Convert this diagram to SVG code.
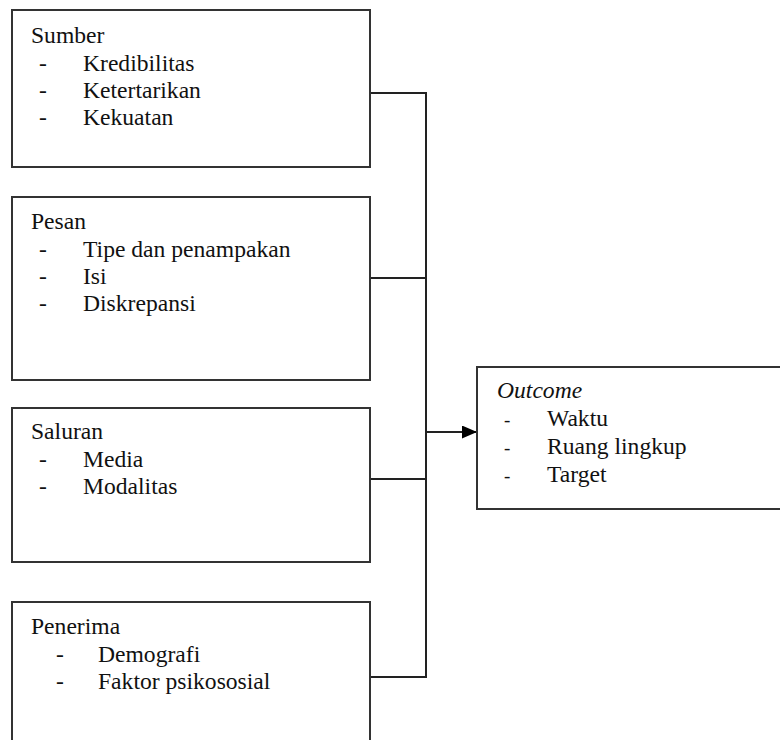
<svg xmlns="http://www.w3.org/2000/svg" width="780" height="740" viewBox="0 0 780 740">
<defs>
<style>
.box{fill:#fff;stroke:#333;stroke-width:2}
.t{font-family:'Liberation Serif','DejaVu Serif',serif;font-size:23.6px;fill:#111}
.it{font-style:italic}
.ln{fill:none;stroke:#222;stroke-width:2}
</style>
<marker id="ah" markerWidth="15" markerHeight="13" refX="15" refY="6.5" orient="auto" markerUnits="userSpaceOnUse">
<path d="M0,0 L15,6.5 L0,13 Z" fill="#000"/>
</marker>
</defs>
<rect width="780" height="740" fill="#fff"/>
<g id="connectors">
<path class="ln" d="M370,93 H426 M370,278 H426 M370,479 H426 M370,677 H426 M426,92 V678"/>
<path class="ln" d="M426,432 H477" marker-end="url(#ah)"/>
</g>
<g id="sumber">
<rect class="box" x="12" y="10" width="358" height="157"/>
<text class="t" x="31" y="43">Sumber</text>
<text class="t" x="39" y="71">-</text><text class="t" x="83" y="71">Kredibilitas</text>
<text class="t" x="39" y="98">-</text><text class="t" x="83" y="98">Ketertarikan</text>
<text class="t" x="39" y="125">-</text><text class="t" x="83" y="125">Kekuatan</text>
</g>
<g id="pesan">
<rect class="box" x="12" y="197" width="358" height="183"/>
<text class="t" x="31" y="229">Pesan</text>
<text class="t" x="39" y="257">-</text><text class="t" x="83" y="257">Tipe dan penampakan</text>
<text class="t" x="39" y="284">-</text><text class="t" x="83" y="284">Isi</text>
<text class="t" x="39" y="311">-</text><text class="t" x="83" y="311">Diskrepansi</text>
</g>
<g id="saluran">
<rect class="box" x="12" y="408" width="358" height="154"/>
<text class="t" x="31" y="439">Saluran</text>
<text class="t" x="39" y="467">-</text><text class="t" x="83" y="467">Media</text>
<text class="t" x="39" y="494">-</text><text class="t" x="83" y="494">Modalitas</text>
</g>
<g id="penerima">
<rect class="box" x="12" y="602" width="358" height="160"/>
<text class="t" x="31" y="634">Penerima</text>
<text class="t" x="56" y="662">-</text><text class="t" x="98" y="662">Demografi</text>
<text class="t" x="56" y="689">-</text><text class="t" x="98" y="689">Faktor psikososial</text>
</g>
<g id="outcome">
<rect class="box" x="477" y="367" width="320" height="142"/>
<text class="t it" x="497" y="398">Outcome</text>
<text class="t" x="504" y="426" style="font-size:19px">-</text><text class="t" x="547" y="426">Waktu</text>
<text class="t" x="504" y="454" style="font-size:19px">-</text><text class="t" x="547" y="454">Ruang lingkup</text>
<text class="t" x="504" y="482" style="font-size:19px">-</text><text class="t" x="547" y="482">Target</text>
</g>
</svg>
